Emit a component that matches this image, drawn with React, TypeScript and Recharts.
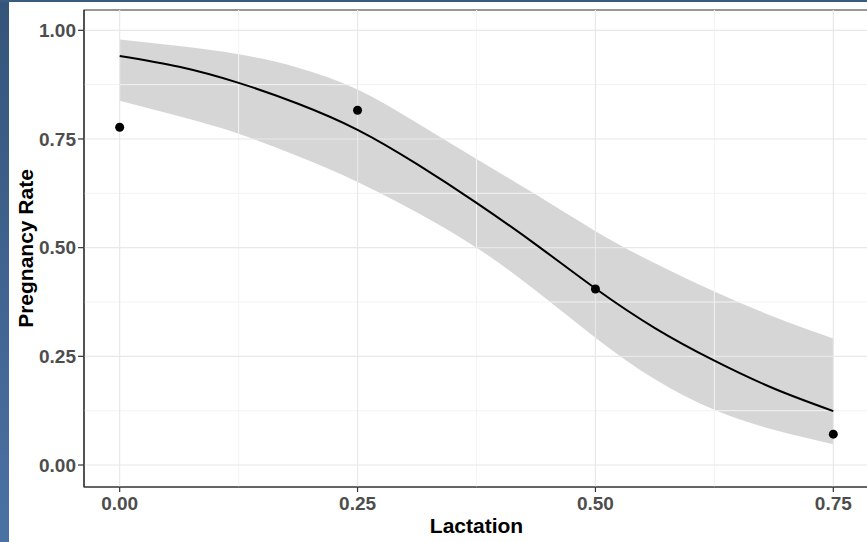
import {
  Area,
  ComposedChart,
  Label,
  Line,
  ReferenceArea,
  ReferenceLine,
  Scatter,
  XAxis,
  YAxis,
} from "recharts";

const lactation = [0, 0.0625, 0.125, 0.1875, 0.25, 0.3125, 0.375, 0.4375, 0.5, 0.5625, 0.625, 0.6875, 0.75];
const fitted = [0.941, 0.916, 0.879, 0.831, 0.771, 0.692, 0.603, 0.507, 0.406, 0.315, 0.240, 0.176, 0.124];
const upper = [0.979, 0.964, 0.945, 0.914, 0.864, 0.787, 0.704, 0.622, 0.538, 0.464, 0.399, 0.341, 0.291];
const lower = [0.838, 0.802, 0.762, 0.710, 0.651, 0.581, 0.500, 0.401, 0.293, 0.197, 0.127, 0.081, 0.048];

const obsLactation = [0, 0.25, 0.5, 0.75];
const obsRate = [0.777, 0.816, 0.405, 0.071];

const xTicks = [0, 0.25, 0.5, 0.75];
const yTicks = [0, 0.25, 0.5, 0.75, 1];
const xMinor = [0.125, 0.375, 0.625];
const yMinor = [0.125, 0.375, 0.625, 0.875];

const X_DOMAIN: [number, number] = [-0.0375, 0.7875];
const Y_DOMAIN: [number, number] = [-0.0506, 1.0467];

const curve = lactation.map((x, i) => ({
  lactation: x,
  fit: fitted[i],
  band: [lower[i], upper[i]],
}));

const points = obsLactation.map((x, i) => ({ lactation: x, rate: obsRate[i] }));

const FONT = "'Liberation Sans', Arial, sans-serif";
const TICK = { fontSize: 19, fontWeight: 700, fill: "#4d4d4d", fontFamily: FONT };
const MAJOR = "#e8e8e8";
const MINOR = "#f3f3f3";

export default function App() {
  return (
    <div
      style={{
        position: "fixed",
        left: 0,
        top: 0,
        width: 867,
        height: 542,
        overflow: "hidden",
        background: "#ffffff",
      }}
    >
      <div style={{ position: "absolute", left: 0, top: 0 }}>
        <ComposedChart
          width={880}
          height={542}
          data={curve}
          margin={{ top: 10, right: 11, bottom: 0, left: 0 }}
        >
          {xMinor.map((v) => (
            <ReferenceLine key={`xm${v}`} x={v} stroke={MINOR} strokeWidth={1} />
          ))}
          {yMinor.map((v) => (
            <ReferenceLine key={`ym${v}`} y={v} stroke={MINOR} strokeWidth={1} />
          ))}
          {xTicks.map((v) => (
            <ReferenceLine key={`xM${v}`} x={v} stroke={MAJOR} strokeWidth={1.2} />
          ))}
          {yTicks.map((v) => (
            <ReferenceLine key={`yM${v}`} y={v} stroke={MAJOR} strokeWidth={1.2} />
          ))}
          <XAxis
            dataKey="lactation"
            type="number"
            domain={X_DOMAIN}
            ticks={xTicks}
            allowDataOverflow
            height={55}
            tickFormatter={(v: number) => v.toFixed(2)}
            tick={TICK}
            tickSize={5}
            tickMargin={5}
            axisLine={{ stroke: "#333333", strokeWidth: 1.2 }}
            tickLine={{ stroke: "#333333", strokeWidth: 1.2 }}
          >
            <Label
              content={({ viewBox }: any) => (
                <text
                  x={viewBox.x + viewBox.width / 2}
                  y={viewBox.y + 46}
                  textAnchor="middle"
                  fontSize={21}
                  fontWeight={700}
                  fontFamily={FONT}
                  fill="#000"
                >
                  Lactation
                </text>
              )}
            />
          </XAxis>
          <YAxis
            type="number"
            domain={Y_DOMAIN}
            ticks={yTicks}
            allowDataOverflow
            width={84}
            tickFormatter={(v: number) => v.toFixed(2)}
            tick={TICK}
            tickSize={6}
            tickMargin={2}
            axisLine={{ stroke: "#333333", strokeWidth: 1.2 }}
            tickLine={{ stroke: "#333333", strokeWidth: 1.2 }}
          >
            <Label
              content={({ viewBox }: any) => {
                const cy = viewBox.y + viewBox.height / 2;
                return (
                  <text
                    x={25}
                    y={cy}
                    transform={`rotate(-90 25 ${cy})`}
                    textAnchor="middle"
                    dominantBaseline="central"
                    fontSize={21}
                    fontWeight={700}
                    fontFamily={FONT}
                    fill="#000"
                  >
                    Pregnancy Rate
                  </text>
                );
              }}
            />
          </YAxis>
          <Area
            dataKey="band"
            type="natural"
            stroke="none"
            fill="#999999"
            fillOpacity={0.4}
            isAnimationActive={false}
          />
          <Line
            dataKey="fit"
            type="natural"
            stroke="#000000"
            strokeWidth={2}
            dot={false}
            activeDot={false}
            isAnimationActive={false}
          />
          <Scatter
            data={points}
            dataKey="rate"
            fill="#000000"
            shape={(p: any) => <circle cx={p.cx} cy={p.cy} r={4.5} fill="#000" />}
            isAnimationActive={false}
          />
          <ReferenceArea
            x1={X_DOMAIN[0]}
            x2={X_DOMAIN[1]}
            y1={Y_DOMAIN[0]}
            y2={Y_DOMAIN[1]}
            fill="none"
            stroke="#333333"
            strokeWidth={1.2}
          />
        </ComposedChart>
      </div>
      <div
        style={{
          position: "absolute",
          left: 0,
          top: 0,
          width: 9,
          height: 542,
          background: "linear-gradient(#34547a, #4b71a4)",
        }}
      />
      <div
        style={{
          position: "absolute",
          left: 0,
          top: 0,
          width: 867,
          height: 2,
          background: "#3a5a80",
        }}
      />
    </div>
  );
}
